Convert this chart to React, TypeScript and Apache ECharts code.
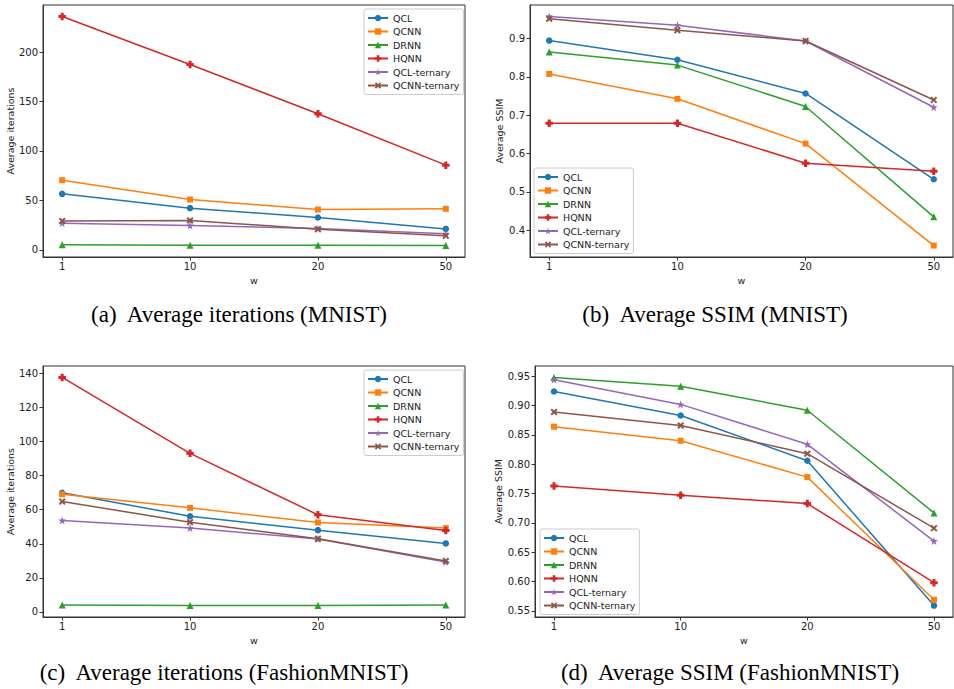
import React, { useEffect, useRef } from "react";
import * as echarts from "echarts";

const categories = ["1", "10", "20", "50"];
const seriesNames = ["QCL", "QCNN", "DRNN", "HQNN", "QCL-ternary", "QCNN-ternary"];
const colors = ["#1f77b4", "#ff7f0e", "#2ca02c", "#d62728", "#9467bd", "#8c564b"];

// (a) Average iterations (MNIST)
const iterMnistQCL = [56.7, 42.2, 32.7, 21.2];
const iterMnistQCNN = [70.5, 50.9, 40.8, 41.5];
const iterMnistDRNN = [5.1, 4.7, 4.7, 4.4];
const iterMnistHQNN = [236.0, 187.5, 137.6, 85.7];
const iterMnistQCLt = [27.0, 24.6, 21.6, 16.2];
const iterMnistQCNNt = [29.3, 29.7, 20.9, 14.2];

// (b) Average SSIM (MNIST)
const ssimMnistQCL = [0.895, 0.845, 0.757, 0.533];
const ssimMnistQCNN = [0.808, 0.743, 0.626, 0.36];
const ssimMnistDRNN = [0.865, 0.831, 0.723, 0.435];
const ssimMnistHQNN = [0.679, 0.679, 0.575, 0.554];
const ssimMnistQCLt = [0.958, 0.935, 0.894, 0.721];
const ssimMnistQCNNt = [0.952, 0.922, 0.894, 0.74];

// (c) Average iterations (FashionMNIST)
const iterFashionQCL = [69.9, 56.2, 48.0, 40.2];
const iterFashionQCNN = [69.1, 61.1, 52.5, 49.2];
const iterFashionDRNN = [4.1, 3.7, 3.7, 4.1];
const iterFashionHQNN = [137.7, 93.1, 57.0, 47.8];
const iterFashionQCLt = [53.7, 49.2, 42.8, 29.3];
const iterFashionQCNNt = [64.8, 52.7, 43.0, 29.9];

// (d) Average SSIM (FashionMNIST)
const ssimFashionQCL = [0.924, 0.883, 0.806, 0.559];
const ssimFashionQCNN = [0.864, 0.84, 0.778, 0.569];
const ssimFashionDRNN = [0.948, 0.933, 0.892, 0.717];
const ssimFashionHQNN = [0.763, 0.747, 0.733, 0.598];
const ssimFashionQCLt = [0.944, 0.902, 0.834, 0.669];
const ssimFashionQCNNt = [0.889, 0.866, 0.818, 0.691];

const ticksIterMnist = [0, 50, 100, 150, 200];
const ticksSsimMnist = [0.4, 0.5, 0.6, 0.7, 0.8, 0.9];
const ticksIterFashion = [0, 20, 40, 60, 80, 100, 120, 140];
const ticksSsimFashion = [0.55, 0.6, 0.65, 0.7, 0.75, 0.8, 0.85, 0.9, 0.95];

const captions = [
  "(a)  Average iterations (MNIST)",
  "(b)  Average SSIM (MNIST)",
  "(c)  Average iterations (FashionMNIST)",
  "(d)  Average SSIM (FashionMNIST)",
];

const symbols = [
  "circle",
  "rect",
  "triangle",
  "path://M3,0H7V3H10V7H7V10H3V7H0V3H3Z",
  "path://M50,0L61.23,34.55L97.55,34.55L68.16,55.9L79.39,90.45L50,69.1L20.61,90.45L31.84,55.9L2.45,34.55L38.77,34.55Z",
  "path://M2,0L5,3L8,0L10,2L7,5L10,8L8,10L5,7L2,10L0,8L3,5L0,2Z",
];
const symbolSizes = [6.5, 6, 7, 7.5, 8, 7];

const panels = [
  {
    data: [iterMnistQCL, iterMnistQCNN, iterMnistDRNN, iterMnistHQNN, iterMnistQCLt, iterMnistQCNNt],
    ticks: ticksIterMnist, dec: 0, yName: "Average iterations", nameGap: 27,
    grid: { left: 43, top: 5, width: 422, height: 252 },
    legend: { left: 364, top: 9 }, caption: { x: 239, y: 314 },
  },
  {
    data: [ssimMnistQCL, ssimMnistQCNN, ssimMnistDRNN, ssimMnistHQNN, ssimMnistQCLt, ssimMnistQCNNt],
    ticks: ticksSsimMnist, dec: 1, yName: "Average SSIM", nameGap: 26,
    grid: { left: 530, top: 5, width: 423, height: 252 },
    legend: { left: 534, top: 168 }, caption: { x: 715, y: 314 },
  },
  {
    data: [iterFashionQCL, iterFashionQCNN, iterFashionDRNN, iterFashionHQNN, iterFashionQCLt, iterFashionQCNNt],
    ticks: ticksIterFashion, dec: 0, yName: "Average iterations", nameGap: 27,
    grid: { left: 43, top: 366, width: 422, height: 251 },
    legend: { left: 364, top: 370 }, caption: { x: 224, y: 672 },
  },
  {
    data: [ssimFashionQCL, ssimFashionQCNN, ssimFashionDRNN, ssimFashionHQNN, ssimFashionQCLt, ssimFashionQCNNt],
    ticks: ticksSsimFashion, dec: 2, yName: "Average SSIM", nameGap: 31,
    grid: { left: 535, top: 366, width: 418, height: 251 },
    legend: { left: 540, top: 529 }, caption: { x: 730, y: 672 },
  },
];

const FONT = "DejaVu Sans";

export default function App() {
  const ref = useRef<HTMLDivElement>(null);
  useEffect(() => {
    document.body.style.margin = "0";
    const chart = echarts.init(ref.current!, null, { renderer: "svg" });
    const grids: any[] = [];
    const xAxes: any[] = [];
    const yAxes: any[] = [];
    const series: any[] = [];
    const legends: any[] = [];
    const graphics: any[] = [];
    panels.forEach((p, gi) => {
      grids.push({ ...p.grid, show: true, borderColor: "#333", borderWidth: 1, backgroundColor: "transparent", containLabel: false });
      const all = p.data.flat();
      const lo = Math.min(...all);
      const hi = Math.max(...all);
      const pad = (hi - lo) * 0.05;
      xAxes.push({
        type: "value", gridIndex: gi, min: -0.15, max: categories.length - 1 + 0.15,
        position: "bottom",
        name: "w", nameLocation: "middle", nameGap: 18,
        nameTextStyle: { fontFamily: FONT, fontSize: 9.5, color: "#222" },
        axisLine: { show: true, onZero: false, lineStyle: { color: "#333", width: 1 } },
        splitLine: { show: false },
        axisTick: { show: true, customValues: categories.map((_, i) => i), length: 3.5, lineStyle: { color: "#333", width: 1 } },
        axisLabel: {
          customValues: categories.map((_, i) => i), fontFamily: FONT, fontSize: 10, color: "#222", margin: 4,
          formatter: (v: number) => categories[Math.round(v)] ?? "",
        },
      });
      yAxes.push({
        type: "value", gridIndex: gi, min: lo - pad, max: hi + pad,
        position: "left",
        name: p.yName, nameLocation: "middle", nameGap: p.nameGap,
        nameTextStyle: { fontFamily: FONT, fontSize: 9.5, color: "#222" },
        axisLine: { show: true, onZero: false, lineStyle: { color: "#333", width: 1 } },
        splitLine: { show: false },
        axisTick: { show: true, customValues: p.ticks, length: 3.5, lineStyle: { color: "#333", width: 1 } },
        axisLabel: {
          customValues: p.ticks, fontFamily: FONT, fontSize: 10, color: "#222", margin: 5,
          formatter: (v: number) => v.toFixed(p.dec),
        },
      });
      p.data.forEach((vals, si) => {
        series.push({
          type: "line", name: seriesNames[si], xAxisIndex: gi, yAxisIndex: gi,
          data: vals.map((v, i) => [i, v]),
          symbol: symbols[si], symbolSize: symbolSizes[si],
          lineStyle: { color: colors[si], width: 1.5 },
          itemStyle: { color: colors[si] },
          showSymbol: true, z: 2 + si,
        });
      });
      legends.push({
        orient: "vertical", left: p.legend.left, top: p.legend.top,
        data: seriesNames, itemWidth: 20, itemHeight: 8, itemGap: 1.5,
        padding: [3, 4, 3, 3], backgroundColor: "#fff", borderColor: "#ccc", borderWidth: 1, borderRadius: 2,
        textStyle: { fontFamily: FONT, fontSize: 9.5, color: "#222", lineHeight: 12 },
        selectedMode: false,
      });
      graphics.push({
        type: "text", x: p.caption.x, y: p.caption.y,
        style: {
          text: captions[gi], font: '23px "Liberation Serif"', fill: "#000",
          textAlign: "center", textVerticalAlign: "middle",
        },
      });
    });
    chart.setOption({
      animation: false,
      backgroundColor: "#fff",
      color: colors,
      grid: grids,
      xAxis: xAxes,
      yAxis: yAxes,
      series,
      legend: legends,
      graphic: graphics,
    });
    return () => chart.dispose();
  }, []);
  return <div ref={ref} style={{ position: "fixed", left: 0, top: 0, width: 954, height: 689 }} />;
}
